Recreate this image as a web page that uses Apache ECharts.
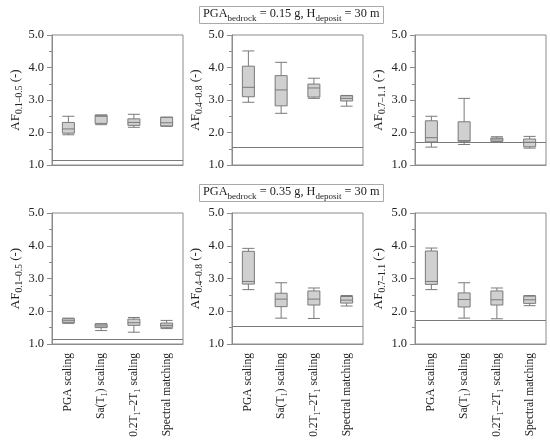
<!DOCTYPE html>
<html>
<head>
<meta charset="utf-8">
<script src="https://cdn.jsdelivr.net/npm/echarts@6/dist/echarts.min.js"></script>
<style>
html,body{margin:0;padding:0;background:#fff;}
#c{width:550px;height:444px;}
</style>
</head>
<body>
<div id="c"></div>
<script>
// ---- data ----
const categories = ['PGA scaling', 'Sa(T1) scaling', '0.2T1–2T1 scaling', 'Spectral matching'];
const yTicks = [1.0, 2.0, 3.0, 4.0, 5.0];
const panelNames = ['0.1–0.5', '0.4–0.8', '0.7–1.1'];
const rowTitles = [
  {pga: '0.15', h: '30'},
  {pga: '0.35', h: '30'}
];
// boxplot values: [min, Q1, median, Q3, max]
const top_AF01_05 = [[1.93,1.98,2.11,2.31,2.50],[2.24,2.28,2.50,2.53,2.54],[2.16,2.22,2.31,2.42,2.56],[2.19,2.20,2.30,2.47,2.47]];
const top_AF04_08 = [[2.93,3.10,3.39,4.04,4.51],[2.59,2.82,3.31,3.75,4.16],[3.05,3.09,3.37,3.49,3.67],[2.81,2.97,3.05,3.13,3.14]];
const top_AF07_11 = [[1.55,1.71,1.84,2.36,2.50],[1.63,1.73,1.75,2.33,3.05],[1.73,1.73,1.80,1.83,1.87],[1.52,1.56,1.70,1.80,1.88]];
const bot_AF01_05 = [[1.63,1.65,1.71,1.77,1.79],[1.41,1.50,1.55,1.61,1.62],[1.36,1.57,1.65,1.76,1.81],[1.47,1.51,1.57,1.64,1.72]];
const bot_AF04_08 = [[2.66,2.83,2.91,3.83,3.92],[1.79,2.14,2.37,2.55,2.87],[1.78,2.19,2.37,2.62,2.71],[2.16,2.25,2.34,2.45,2.48]];
const bot_AF07_11 = [[2.66,2.82,2.91,3.84,3.93],[1.79,2.13,2.36,2.56,2.87],[1.77,2.19,2.35,2.62,2.71],[2.17,2.24,2.35,2.46,2.48]];
// bedrock reference lines
const top_ref = [1.15, 1.55, 1.71];
const bot_ref = [1.15, 1.54, 1.73];

const panels = [
  [top_AF01_05, top_AF04_08, top_AF07_11],
  [bot_AF01_05, bot_AF04_08, bot_AF07_11]
];
const refs = [top_ref, bot_ref];

// ---- layout ----
const FONT = '"Liberation Serif", "DejaVu Serif", serif';
const GRAY = '#8c8c8c';
const TXT = '#222';
const colLeft = [52, 232, 415];
const gridW = 131;
const rowTop = [35, 213];
const gridH = [130, 131];

const subRich = {
  m: {fontFamily: FONT, fontSize: 13, fontWeight: 'normal', color: TXT, lineHeight: 18},
  s: {fontFamily: FONT, fontSize: 9.5, fontWeight: 'normal', color: TXT, lineHeight: 9, verticalAlign: 'bottom'}
};
const titleRich = {
  m: {fontFamily: FONT, fontSize: 12.3, fontWeight: 'normal', color: TXT, lineHeight: 18},
  s: {fontFamily: FONT, fontSize: 9, fontWeight: 'normal', color: TXT, lineHeight: 9, verticalAlign: 'bottom'}
};
const labRich = {
  m: {fontFamily: FONT, fontSize: 11.5, fontWeight: 'normal', color: TXT, lineHeight: 16},
  s: {fontFamily: FONT, fontSize: 8.5, fontWeight: 'normal', color: TXT, lineHeight: 8, verticalAlign: 'bottom'}
};

function catFormatter(v) {
  return '{m|' + v.replace(/T1/g, 'T}{s|1}{m|') + '}';
}

const grids = [], xAxes = [], yAxes = [], series = [], titles = [];
for (let r = 0; r < 2; r++) {
  titles.push({
    text: '{m|PGA}{s|bedrock}{m| = ' + rowTitles[r].pga + ' g, H}{s|deposit}{m| = ' + rowTitles[r].h + ' m}',
    left: 199, top: r === 0 ? 3 : 181,
    padding: [2, 4, 1, 4],
    borderColor: '#aaa', borderWidth: 1,
    textStyle: {fontWeight: 'normal', rich: titleRich}
  });
  for (let c = 0; c < 3; c++) {
    const i = r * 3 + c;
    grids.push({
      left: colLeft[c], top: rowTop[r], width: gridW, height: gridH[r],
      show: true, borderColor: GRAY, borderWidth: 1, backgroundColor: 'transparent'
    });
    xAxes.push({
      type: 'category', gridIndex: i, data: categories,
      axisLine: {lineStyle: {color: GRAY}},
      axisTick: {alignWithLabel: true, length: 6, lineStyle: {color: GRAY}},
      axisLabel: {
        show: r === 1, rotate: 90, margin: 9, interval: 0,
        formatter: catFormatter, rich: labRich
      }
    });
    yAxes.push({
      type: 'value', gridIndex: i, min: 1, max: 5, interval: 1,
      name: '{m|AF}{s|' + panelNames[c] + '}{m| (-)}',
      nameLocation: 'middle', nameRotate: 90, nameGap: 27,
      nameTextStyle: {fontWeight: 'normal', rich: subRich},
      axisLine: {show: true, lineStyle: {color: GRAY}},
      axisTick: {show: true, length: 5, lineStyle: {color: GRAY}},
      minorTick: {show: true, splitNumber: 2, length: 3, lineStyle: {color: GRAY}},
      splitLine: {show: false},
      axisLabel: {
        fontFamily: FONT, fontSize: 12.5, color: TXT, margin: 8,
        formatter: v => yTicks.indexOf(v) >= 0 ? v.toFixed(1) : ''
      }
    });
    series.push({
      type: 'boxplot', xAxisIndex: i, yAxisIndex: i,
      data: panels[r][c],
      boxWidth: [12, 12],
      itemStyle: {color: '#d0d0d0', borderColor: '#7a7a7a', borderWidth: 1},
      emphasis: {disabled: true},
      markLine: {
        silent: true, symbol: 'none', animation: false,
        label: {show: false},
        lineStyle: {color: '#7a7a7a', type: 'solid', width: 1},
        data: [{yAxis: refs[r][c]}]
      }
    });
  }
}

const chart = echarts.init(document.getElementById('c'));
chart.setOption({
  animation: false,
  backgroundColor: '#fff',
  title: titles,
  grid: grids,
  xAxis: xAxes,
  yAxis: yAxes,
  series: series
});
</script>
</body>
</html>
